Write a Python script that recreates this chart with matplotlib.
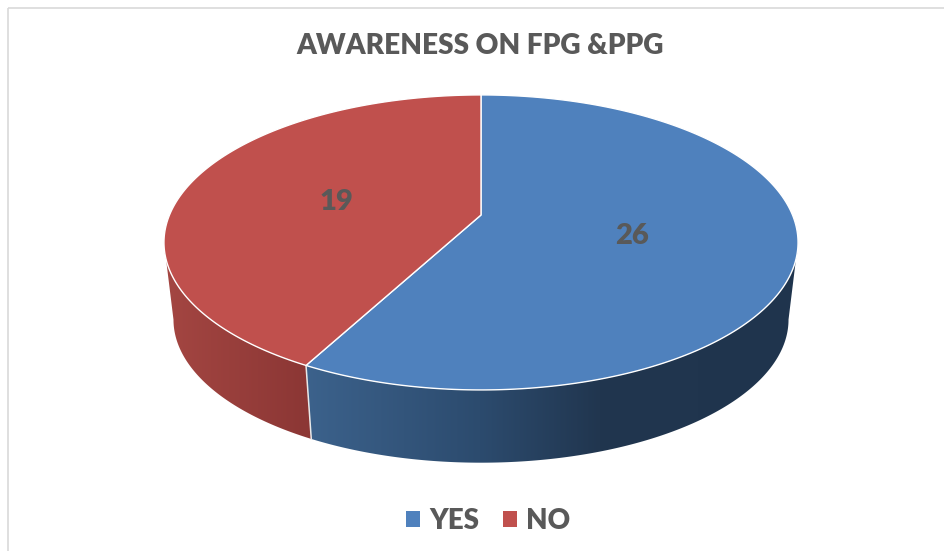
import numpy as np
import matplotlib.pyplot as plt
from matplotlib.patches import Patch, Polygon, Rectangle

plt.rcParams['font.family'] = ['Lato', 'DejaVu Sans']

title = 'AWARENESS ON FPG &PPG'
labels = ['YES', 'NO']
values = [26, 19]
top_colors = ['#4f81bd', '#c0504d']
text_color = '#595959'

# wall shading, left to right on screen
wall_x = {'YES': [305, 480, 600, 797], 'NO': [164, 305]}
wall_rgb = {'YES': ['#3c628c', '#2c4b6e', '#21364f', '#1f344d'],
            'NO': ['#a44642', '#8c3735']}

# pie geometry in pixels, the tilt gives the off-centre apex
cx, cy = 481, 215
ax_x, ax_y = 311.5, 142.4
k = 0.186
base_scale = 0.97
base_cy = 293


def project(theta, r=1.0, scale=1.0, y0=cy):
    # theta in degrees clockwise from the top
    t = np.radians(theta)
    u = r*np.sin(t)
    v = r*np.cos(t)
    w = 1 + k*v
    return cx + scale*ax_x*u/w, y0 - scale*ax_y*v/w


def hex2rgb(c):
    return np.array([int(c[i:i+2], 16)/255 for i in (1, 3, 5)])


def shade(name, x):
    stops = np.array([hex2rgb(c) for c in wall_rgb[name]])
    return np.column_stack([np.interp(x, wall_x[name], stops[:, i]) for i in range(3)])


fig = plt.figure(figsize=(9.44, 5.51), dpi=100)
ax = fig.add_axes([0, 0, 1, 1])
ax.set_xlim(0, 944)
ax.set_ylim(551, 0)
ax.axis('off')

ax.add_patch(Rectangle((7.5, 8), 960, 600, fill=False, ec='#d9d9d9', lw=1.2))

total = sum(values)
edges = np.cumsum([0] + values)/total*360

# only the front of the rim shows, between the two side tangents
side = np.degrees(np.arccos(-k))
for name, start, end in zip(labels, edges[:-1], edges[1:]):
    th = np.linspace(max(start, side), min(end, 360-side), 361)
    tx, ty = project(th)
    bx, by = project(th, scale=base_scale, y0=base_cy)
    wall = Polygon(np.column_stack([np.r_[tx, bx[::-1]], np.r_[ty, by[::-1]]]), closed=True,
                   fc='none', ec='none', transform=ax.transData)
    ax.add_patch(wall)
    xs = np.arange(np.floor(min(tx.min(), bx.min())), np.ceil(max(tx.max(), bx.max()))+1)
    ramp = shade(name, xs)[np.newaxis, :, :]
    im = ax.imshow(ramp, extent=(xs[0], xs[-1], 480, 200), aspect='auto', interpolation='bilinear')
    im.set_clip_path(wall)
ax.set_xlim(0, 944)
ax.set_ylim(551, 0)

# seam between the two walls
sx, sy = project(edges[1])
bx, by = project(edges[1], scale=base_scale, y0=base_cy)
ax.plot([sx, bx], [sy, by], color='#e8e8e8', lw=1.1)

for col, start, end in zip(top_colors, edges[:-1], edges[1:]):
    th = np.linspace(start, end, 361)
    tx, ty = project(th)
    pts = np.column_stack([np.r_[cx, tx], np.r_[cy, ty]])
    ax.add_patch(Polygon(pts, closed=True, fc=col, ec='white', lw=1.0, joinstyle='round', zorder=3))

for lab, val, start, end in zip(labels, values, edges[:-1], edges[1:]):
    x, y = project((start+end)/2, r=0.49)
    ax.text(x, y+4, str(val), ha='center', va='center', fontsize=21, fontweight='heavy',
            color=text_color, zorder=4)

ax.text(480.5, 46, title, ha='center', va='center', fontsize=20.2, fontweight='heavy', color=text_color)

handles = [Patch(fc=c, ec='none') for c in top_colors]
ax.legend(handles, labels, loc='center', bbox_to_anchor=(488.5/944, 1-521/551), ncol=2, frameon=False,
          prop={'size': 20, 'weight': 'heavy'}, labelcolor=text_color, handlelength=0.5, handleheight=0.5,
          handletextpad=0.33, columnspacing=0.86)

fig.savefig('out.png', dpi=100)
